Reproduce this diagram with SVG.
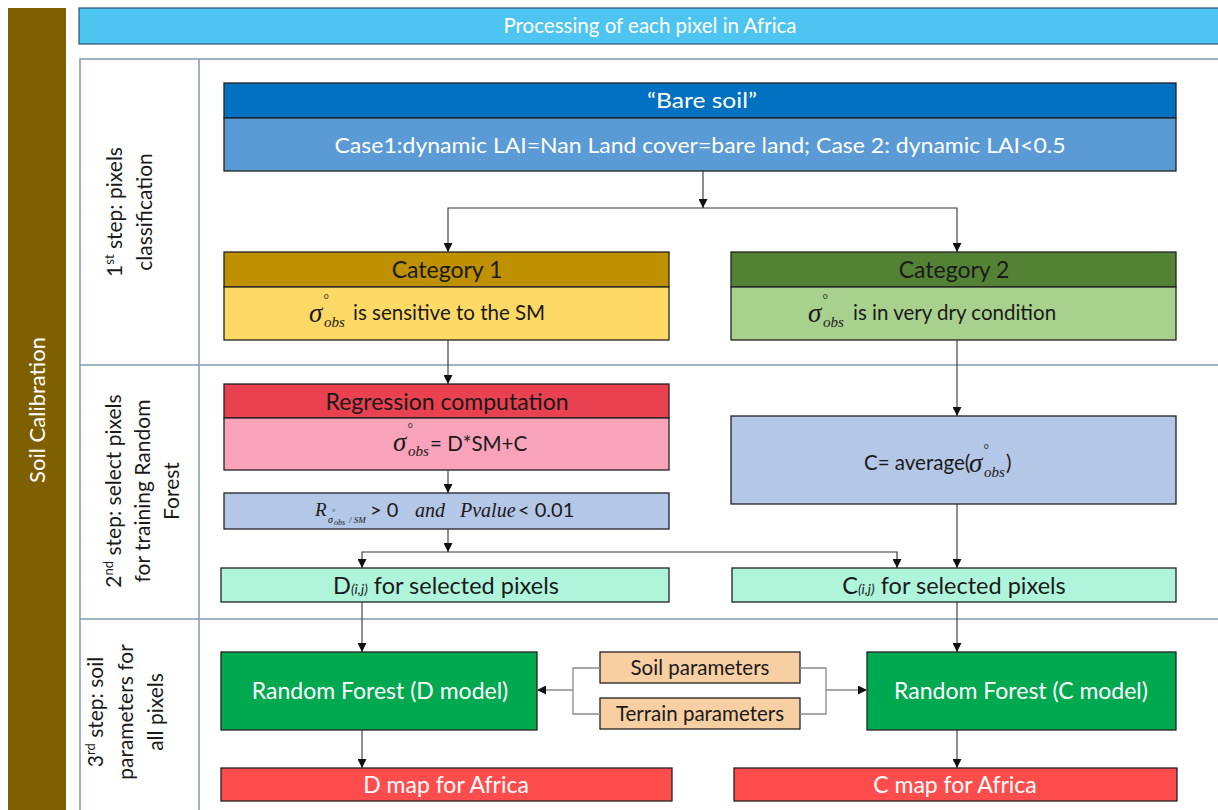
<svg xmlns="http://www.w3.org/2000/svg" width="1218" height="810" viewBox="0 0 1218 810">
<style>
.t{font-family:Lato,"Open Sans","Liberation Sans",sans-serif;}
.w{fill:#ffffff;}
.d{fill:#1a1a1a;}
.box{stroke:#222;stroke-width:1.3;}
.c{stroke:#333;stroke-width:1.1;fill:none;}
.g{stroke:#8a8a8a;stroke-width:1.3;fill:none;}
.grid{stroke:#8497b0;stroke-width:1.5;fill:none;}
.m{font-family:"Liberation Serif",serif;font-style:italic;}
</style>
<defs>
<marker id="ah" viewBox="0 0 10 10" refX="10" refY="5" markerWidth="9" markerHeight="9" markerUnits="userSpaceOnUse" orient="auto">
<path d="M0,0 L10,5 L0,10 z" fill="#111"/>
</marker>
</defs>
<rect width="1218" height="810" fill="#ffffff"/>

<g id="side">
<rect x="8" y="8" width="58" height="810" fill="#7f6000"/>
<text class="t w" font-size="22" text-anchor="middle" transform="translate(45,410) rotate(-90)">Soil Calibration</text>
</g>

<g id="title">
<rect x="79" y="8" width="1150" height="36" fill="#4dc5f0" stroke="#2f4f6f" stroke-width="1.2"/>
<text class="t w" x="650" y="33" font-size="20.5" text-anchor="middle">Processing of each pixel in Africa</text>
</g>

<g id="table">
<rect class="grid" x="80" y="59" width="1160" height="800"/>
<line class="grid" x1="199" y1="59" x2="199" y2="810"/>
<line class="grid" x1="80" y1="365" x2="1218" y2="365"/>
<line class="grid" x1="80" y1="619" x2="1218" y2="619"/>
</g>

<g id="row1label">
<text class="t d" font-size="21" text-anchor="middle" transform="translate(122,212) rotate(-90)"><tspan>1</tspan><tspan font-size="13" baseline-shift="super">st</tspan><tspan> step: pixels</tspan><tspan x="0" dy="30">classification</tspan></text>
</g>
<g id="row2label">
<text class="t d" font-size="21" text-anchor="middle" transform="translate(121,491) rotate(-90)"><tspan>2</tspan><tspan font-size="13" baseline-shift="super">nd</tspan><tspan> step: select pixels</tspan><tspan x="0" dy="29">for training Random</tspan><tspan x="0" dy="29">Forest</tspan></text>
</g>
<g id="row3label">
<text class="t d" font-size="21" text-anchor="middle" transform="translate(103,712) rotate(-90)"><tspan>3</tspan><tspan font-size="13" baseline-shift="super">rd</tspan><tspan>  step: soil</tspan><tspan x="0" dy="30">parameters  for</tspan><tspan x="0" dy="30">all pixels</tspan></text>
</g>

<g id="baresoil">
<rect class="box" x="224" y="83" width="952" height="35" fill="#0070c0"/>
<rect class="box" x="224" y="118" width="952" height="53" fill="#5b9bd5"/>
<text class="t w" x="702" y="108" font-size="22" text-anchor="middle" textLength="110" lengthAdjust="spacingAndGlyphs">“Bare soil”</text>
<text class="t w" x="700" y="153" font-size="21" text-anchor="middle" textLength="731" lengthAdjust="spacingAndGlyphs">Case1:dynamic LAI=Nan Land cover=bare land; Case 2: dynamic LAI&lt;0.5</text>
</g>

<g id="category1">
<rect class="box" x="224" y="252" width="445" height="35" fill="#bf9000"/>
<rect class="box" x="224" y="287" width="445" height="53" fill="#ffd966"/>
<text class="t d" x="447" y="278" font-size="23" text-anchor="middle">Category 1</text>
<text class="m d" x="309" y="322" font-size="27">σ</text>
<text class="m d" x="323" y="304" font-size="14">°</text>
<text class="m d" x="324" y="327" font-size="15">obs</text>
<text class="t d" x="353" y="320" font-size="20.5">is sensitive to the SM</text>
</g>

<g id="category2">
<rect class="box" x="731" y="252" width="445" height="35" fill="#548235"/>
<rect class="box" x="731" y="287" width="445" height="53" fill="#a9d18e"/>
<text class="t d" x="954" y="278" font-size="23" text-anchor="middle">Category 2</text>
<text class="m d" x="808" y="322" font-size="27">σ</text>
<text class="m d" x="822" y="304" font-size="14">°</text>
<text class="m d" x="823" y="327" font-size="15">obs</text>
<text class="t d" x="853" y="320" font-size="20.5">is in very dry condition</text>
</g>

<g id="regression">
<rect class="box" x="224" y="384" width="445" height="34" fill="#e9414f"/>
<rect class="box" x="224" y="418" width="445" height="52" fill="#f9a3bb"/>
<text class="t d" x="447" y="410" font-size="23" text-anchor="middle">Regression computation</text>
<text class="m d" x="393" y="451" font-size="27">σ</text>
<text class="m d" x="407" y="433" font-size="14">°</text>
<text class="m d" x="408" y="456" font-size="15">obs</text>
<text class="t d" x="430" y="451" font-size="20.5">= D*SM+C</text>
</g>

<g id="criterion">
<rect class="box" x="224" y="493" width="445" height="36" fill="#b4c7e7"/>
<text class="m d" x="315" y="516" font-size="19">R</text>
<text class="m d" x="328" y="523" font-size="10">σ</text>
<text class="m d" x="332" y="514" font-size="7">°</text>
<text class="m d" x="334" y="525" font-size="8">obs</text>
<text class="m d" x="349" y="523" font-size="9">/ SM</text>
<text class="d" x="370" y="517" font-size="20" font-family="Lato,sans-serif">&gt; 0</text>
<text class="m d" x="415" y="517" font-size="20">and</text>
<text class="m d" x="460" y="517" font-size="20">Pvalue</text>
<text class="d" x="518" y="517" font-size="20" font-family="Lato,sans-serif">&lt; 0.01</text>
</g>

<g id="caverage">
<rect class="box" x="731" y="416" width="445" height="88" fill="#b4c7e7"/>
<text class="t d" x="864" y="470" font-size="20.5">C= average(</text>
<text class="m d" x="969" y="472" font-size="27">σ</text>
<text class="m d" x="983" y="454" font-size="14">°</text>
<text class="m d" x="984" y="477" font-size="15">obs</text>
<text class="t d" x="1006" y="470" font-size="20.5">)</text>
</g>

<g id="dselected">
<rect class="box" x="221" y="568" width="448" height="34" fill="#aff5dc"/>
<text class="t d" x="446" y="594" font-size="23.5" text-anchor="middle">D<tspan font-size="14" font-style="italic">(i,j)</tspan> for selected pixels</text>
</g>

<g id="cselected">
<rect class="box" x="732" y="568" width="444" height="34" fill="#aff5dc"/>
<text class="t d" x="954" y="594" font-size="23.5" text-anchor="middle">C<tspan font-size="14" font-style="italic">(i,j)</tspan> for selected pixels</text>
</g>

<g id="rfd">
<rect class="box" x="221" y="652" width="316" height="78" fill="#00a94f"/>
<text class="t w" x="380" y="699" font-size="23" text-anchor="middle">Random Forest (D model)</text>
</g>

<g id="rfc">
<rect class="box" x="867" y="652" width="309" height="78" fill="#00a94f"/>
<text class="t w" x="1021" y="699" font-size="23" text-anchor="middle">Random Forest (C model)</text>
</g>

<g id="soilparams">
<rect class="box" x="600" y="652" width="200" height="31" fill="#f8cfa3"/>
<text class="t d" x="700" y="675" font-size="20.5" text-anchor="middle">Soil parameters</text>
</g>

<g id="terrainparams">
<rect class="box" x="600" y="698" width="200" height="31" fill="#f8cfa3"/>
<text class="t d" x="700" y="721" font-size="20.5" text-anchor="middle">Terrain parameters</text>
</g>

<g id="dmap">
<rect class="box" x="221" y="768" width="451" height="33" fill="#ff4d4d"/>
<text class="t w" x="446" y="793" font-size="23" text-anchor="middle">D map for Africa</text>
</g>

<g id="cmap">
<rect class="box" x="734" y="768" width="443" height="33" fill="#ff4d4d"/>
<text class="t w" x="955" y="793" font-size="23" text-anchor="middle">C map for Africa</text>
</g>

<g id="connectors">
<line class="c" x1="703" y1="171" x2="703" y2="208" marker-end="url(#ah)"/>
<polyline class="c" points="448,214 448,208 957,208 957,214"/>
<line class="c" x1="448" y1="214" x2="448" y2="252" marker-end="url(#ah)"/>
<line class="c" x1="957" y1="214" x2="957" y2="252" marker-end="url(#ah)"/>
<line class="c" x1="448" y1="340" x2="448" y2="384" marker-end="url(#ah)"/>
<line class="c" x1="448" y1="470" x2="448" y2="493" marker-end="url(#ah)"/>
<line class="c" x1="448" y1="529" x2="448" y2="552" marker-end="url(#ah)"/>
<polyline class="c" points="362,556 362,552 897,552 897,556"/>
<line class="c" x1="362" y1="556" x2="362" y2="568" marker-end="url(#ah)"/>
<line class="c" x1="897" y1="556" x2="897" y2="568" marker-end="url(#ah)"/>
<line class="c" x1="957" y1="340" x2="957" y2="416" marker-end="url(#ah)"/>
<line class="c" x1="957" y1="504" x2="957" y2="568" marker-end="url(#ah)"/>
<line class="c" x1="362" y1="602" x2="362" y2="652" marker-end="url(#ah)"/>
<line class="c" x1="957" y1="602" x2="957" y2="652" marker-end="url(#ah)"/>
<polyline class="g" points="600,668 573,668 573,714 600,714"/>
<line class="g" x1="573" y1="690" x2="537" y2="690" marker-end="url(#ah)"/>
<polyline class="g" points="800,668 826,668 826,714 800,714"/>
<line class="g" x1="826" y1="690" x2="867" y2="690" marker-end="url(#ah)"/>
<line class="c" x1="362" y1="730" x2="362" y2="768" marker-end="url(#ah)"/>
<line class="c" x1="957" y1="730" x2="957" y2="768" marker-end="url(#ah)"/>
</g>
</svg>
